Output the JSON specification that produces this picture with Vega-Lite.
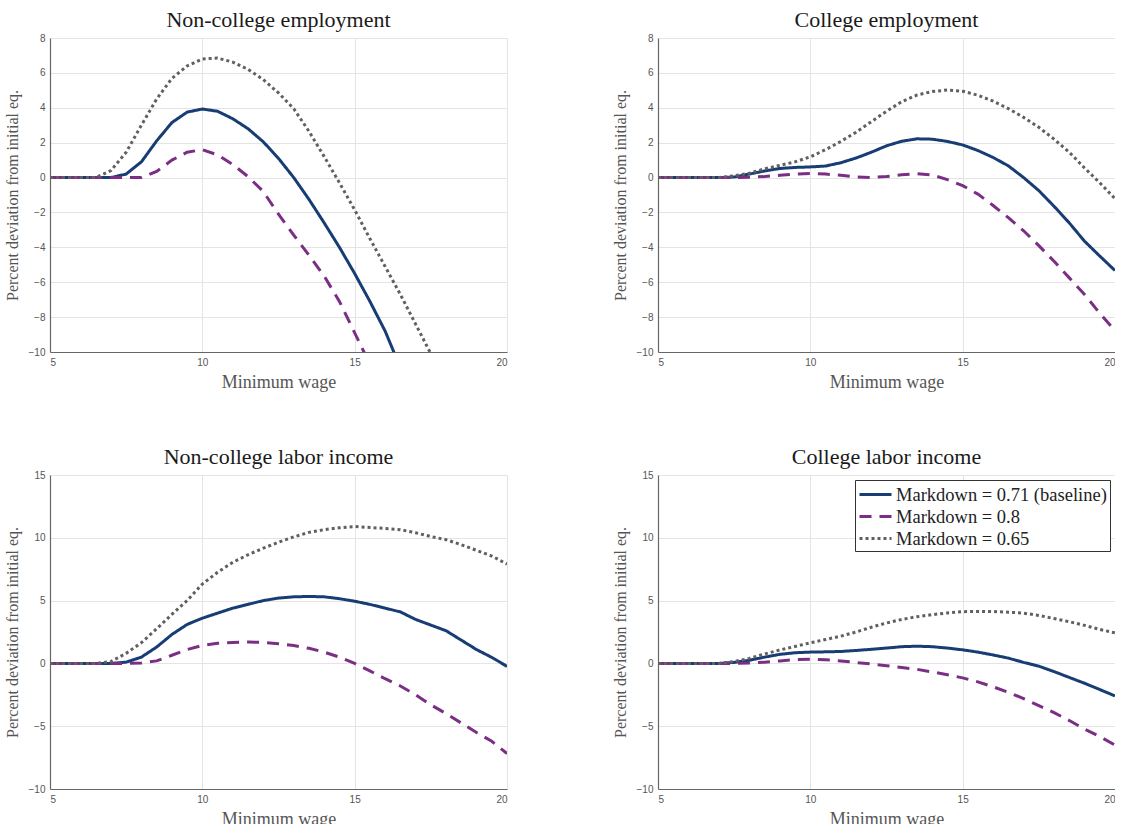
{
  "$schema": "https://vega.github.io/schema/vega-lite/v6.json",
  "background": "white",
  "padding": {"left": 4, "top": 9, "right": 0, "bottom": 0},
  "config": {
    "view": {"stroke": null},
    "font": "Liberation Serif",
    "title": {"font": "Liberation Serif", "fontSize": 22, "fontWeight": "normal", "color": "#1a1a1a", "offset": 1},
    "axis": {
      "labelFont": "Liberation Sans", "labelFontSize": 10, "labelColor": "#555555",
      "titleFont": "Liberation Serif", "titleFontSize": 18, "titleFontWeight": "normal", "titleColor": "#555555",
      "domainColor": "#666666", "domainWidth": 1.2, "gridColor": "#e4e4e4", "gridWidth": 1,
      "ticks": false, "labelPadding": 5, "titlePadding": 6
    },
    "axisY": {"titlePadding": 8, "titleFontSize": 16}
  },
  "data": {"values": [
    {"p":"ne","x":5,"b":0,"h":0,"l":0},{"p":"ne","x":5.5,"b":0,"h":0,"l":0},{"p":"ne","x":6,"b":0,"h":0,"l":0},{"p":"ne","x":6.5,"b":0,"h":0,"l":0},
    {"p":"ne","x":7,"b":0,"h":0,"l":0.4},{"p":"ne","x":7.5,"b":0.2,"h":0,"l":1.45},{"p":"ne","x":8,"b":0.9,"h":0,"l":3.0},{"p":"ne","x":8.5,"b":2.1,"h":0.35,"l":4.5},
    {"p":"ne","x":9,"b":3.15,"h":1.0,"l":5.68},{"p":"ne","x":9.5,"b":3.75,"h":1.45,"l":6.4},{"p":"ne","x":10,"b":3.93,"h":1.6,"l":6.8},{"p":"ne","x":10.5,"b":3.8,"h":1.3,"l":6.85},
    {"p":"ne","x":11,"b":3.37,"h":0.75,"l":6.62},{"p":"ne","x":11.5,"b":2.8,"h":0.05,"l":6.2},{"p":"ne","x":12,"b":2.05,"h":-0.8,"l":5.62},{"p":"ne","x":12.5,"b":1.1,"h":-2.1,"l":4.85},
    {"p":"ne","x":13,"b":0.0,"h":-3.3,"l":3.95},{"p":"ne","x":13.5,"b":-1.25,"h":-4.45,"l":2.65},{"p":"ne","x":14,"b":-2.6,"h":-5.65,"l":1.2},{"p":"ne","x":14.5,"b":-4.0,"h":-7.1,"l":-0.3},
    {"p":"ne","x":15,"b":-5.5,"h":-8.9,"l":-1.85},{"p":"ne","x":15.5,"b":-7.1,"h":-10.7,"l":-3.5},{"p":"ne","x":16,"b":-8.8,"h":null,"l":-5.1},{"p":"ne","x":16.5,"b":-10.9,"h":null,"l":-6.7},
    {"p":"ne","x":17,"b":null,"h":null,"l":-8.4},{"p":"ne","x":17.5,"b":null,"h":null,"l":-10.1},

    {"p":"ce","x":5,"b":0,"h":0,"l":0},{"p":"ce","x":5.5,"b":0,"h":0,"l":0},{"p":"ce","x":6,"b":0,"h":0,"l":0},{"p":"ce","x":6.5,"b":0,"h":0,"l":0},
    {"p":"ce","x":7,"b":0,"h":0,"l":0},{"p":"ce","x":7.5,"b":0.03,"h":0,"l":0.1},{"p":"ce","x":8,"b":0.2,"h":0.02,"l":0.25},{"p":"ce","x":8.5,"b":0.38,"h":0.06,"l":0.5},
    {"p":"ce","x":9,"b":0.52,"h":0.13,"l":0.7},{"p":"ce","x":9.5,"b":0.58,"h":0.2,"l":0.9},{"p":"ce","x":10,"b":0.61,"h":0.23,"l":1.19},{"p":"ce","x":10.5,"b":0.66,"h":0.2,"l":1.6},
    {"p":"ce","x":11,"b":0.85,"h":0.13,"l":2.07},{"p":"ce","x":11.5,"b":1.12,"h":0.04,"l":2.6},{"p":"ce","x":12,"b":1.45,"h":0.0,"l":3.2},{"p":"ce","x":12.5,"b":1.82,"h":0.06,"l":3.8},
    {"p":"ce","x":13,"b":2.08,"h":0.16,"l":4.35},{"p":"ce","x":13.5,"b":2.22,"h":0.22,"l":4.73},{"p":"ce","x":14,"b":2.2,"h":0.15,"l":4.93},{"p":"ce","x":14.5,"b":2.07,"h":-0.12,"l":5.02},
    {"p":"ce","x":15,"b":1.87,"h":-0.46,"l":4.95},{"p":"ce","x":15.5,"b":1.55,"h":-0.95,"l":4.72},{"p":"ce","x":16,"b":1.15,"h":-1.6,"l":4.38},{"p":"ce","x":16.5,"b":0.67,"h":-2.3,"l":3.95},
    {"p":"ce","x":17,"b":0.0,"h":-3.05,"l":3.45},{"p":"ce","x":17.5,"b":-0.75,"h":-3.9,"l":2.88},{"p":"ce","x":18,"b":-1.65,"h":-4.8,"l":2.2},{"p":"ce","x":18.5,"b":-2.6,"h":-5.75,"l":1.45},
    {"p":"ce","x":19,"b":-3.65,"h":-6.7,"l":0.55},{"p":"ce","x":19.5,"b":-4.5,"h":-7.78,"l":-0.3},{"p":"ce","x":20,"b":-5.33,"h":-8.77,"l":-1.21},

    {"p":"ni","x":5,"b":0,"h":0,"l":0},{"p":"ni","x":5.5,"b":0,"h":0,"l":0},{"p":"ni","x":6,"b":0,"h":0,"l":0},{"p":"ni","x":6.5,"b":0,"h":0,"l":0},
    {"p":"ni","x":7,"b":0,"h":0,"l":0.15},{"p":"ni","x":7.5,"b":0.1,"h":0,"l":0.8},{"p":"ni","x":8,"b":0.5,"h":0.03,"l":1.65},{"p":"ni","x":8.5,"b":1.3,"h":0.2,"l":2.75},
    {"p":"ni","x":9,"b":2.3,"h":0.65,"l":3.9},{"p":"ni","x":9.5,"b":3.1,"h":1.1,"l":5.0},{"p":"ni","x":10,"b":3.6,"h":1.43,"l":6.32},{"p":"ni","x":10.5,"b":4.0,"h":1.6,"l":7.25},
    {"p":"ni","x":11,"b":4.4,"h":1.67,"l":8.05},{"p":"ni","x":11.5,"b":4.7,"h":1.7,"l":8.65},{"p":"ni","x":12,"b":5.0,"h":1.68,"l":9.17},{"p":"ni","x":12.5,"b":5.2,"h":1.57,"l":9.65},
    {"p":"ni","x":13,"b":5.3,"h":1.42,"l":10.07},{"p":"ni","x":13.5,"b":5.33,"h":1.2,"l":10.43},{"p":"ni","x":14,"b":5.3,"h":0.9,"l":10.65},{"p":"ni","x":14.5,"b":5.15,"h":0.5,"l":10.8},
    {"p":"ni","x":15,"b":4.95,"h":0.0,"l":10.9},{"p":"ni","x":15.5,"b":4.7,"h":-0.6,"l":10.82},{"p":"ni","x":16,"b":4.4,"h":-1.22,"l":10.75},{"p":"ni","x":16.5,"b":4.1,"h":-1.8,"l":10.65},
    {"p":"ni","x":17,"b":3.5,"h":-2.5,"l":10.4},{"p":"ni","x":17.5,"b":3.05,"h":-3.3,"l":10.1},{"p":"ni","x":18,"b":2.6,"h":-4.0,"l":9.85},{"p":"ni","x":18.5,"b":1.85,"h":-4.75,"l":9.45},
    {"p":"ni","x":19,"b":1.1,"h":-5.5,"l":9.0},{"p":"ni","x":19.5,"b":0.48,"h":-6.2,"l":8.55},{"p":"ni","x":20,"b":-0.24,"h":-7.17,"l":7.91},

    {"p":"ci","x":5,"b":0,"h":0,"l":0},{"p":"ci","x":5.5,"b":0,"h":0,"l":0},{"p":"ci","x":6,"b":0,"h":0,"l":0},{"p":"ci","x":6.5,"b":0,"h":0,"l":0},
    {"p":"ci","x":7,"b":0,"h":0,"l":0},{"p":"ci","x":7.5,"b":0.08,"h":0,"l":0.15},{"p":"ci","x":8,"b":0.25,"h":0.03,"l":0.4},{"p":"ci","x":8.5,"b":0.5,"h":0.1,"l":0.75},
    {"p":"ci","x":9,"b":0.72,"h":0.2,"l":1.07},{"p":"ci","x":9.5,"b":0.85,"h":0.3,"l":1.35},{"p":"ci","x":10,"b":0.9,"h":0.34,"l":1.64},{"p":"ci","x":10.5,"b":0.92,"h":0.3,"l":1.9},
    {"p":"ci","x":11,"b":0.95,"h":0.2,"l":2.17},{"p":"ci","x":11.5,"b":1.03,"h":0.07,"l":2.5},{"p":"ci","x":12,"b":1.12,"h":-0.05,"l":2.88},{"p":"ci","x":12.5,"b":1.22,"h":-0.18,"l":3.22},
    {"p":"ci","x":13,"b":1.33,"h":-0.33,"l":3.5},{"p":"ci","x":13.5,"b":1.37,"h":-0.47,"l":3.72},{"p":"ci","x":14,"b":1.33,"h":-0.68,"l":3.88},{"p":"ci","x":14.5,"b":1.22,"h":-0.9,"l":4.02},
    {"p":"ci","x":15,"b":1.08,"h":-1.15,"l":4.12},{"p":"ci","x":15.5,"b":0.9,"h":-1.47,"l":4.14},{"p":"ci","x":16,"b":0.67,"h":-1.86,"l":4.13},{"p":"ci","x":16.5,"b":0.42,"h":-2.3,"l":4.08},
    {"p":"ci","x":17,"b":0.08,"h":-2.8,"l":4.0},{"p":"ci","x":17.5,"b":-0.22,"h":-3.36,"l":3.82},{"p":"ci","x":18,"b":-0.65,"h":-3.92,"l":3.57},{"p":"ci","x":18.5,"b":-1.12,"h":-4.55,"l":3.32},
    {"p":"ci","x":19,"b":-1.58,"h":-5.23,"l":3.03},{"p":"ci","x":19.5,"b":-2.08,"h":-5.83,"l":2.7},{"p":"ci","x":20,"b":-2.59,"h":-6.5,"l":2.43}
  ]},
  "transform": [{"fold": ["b", "h", "l"], "as": ["s", "y"]}],
  "columns": 2,
  "spacing": {"column": 105, "row": 55},
  "resolve": {
    "scale": {"color": "independent", "strokeDash": "independent", "x": "independent", "y": "independent"},
    "legend": {"color": "independent", "strokeDash": "independent"}
  },
  "concat": [
    {
      "title": "Non-college employment",
      "width": 457, "height": 314,
      "transform": [{"filter": "datum.p == 'ne'"}],
      "mark": {"type": "line", "strokeWidth": 3, "clip": true},
      "encoding": {
        "x": {"field": "x", "type": "quantitative", "scale": {"domain": [5, 20], "nice": false}, "axis": {"values": [5, 10, 15, 20], "title": "Minimum wage"}},
        "y": {"field": "y", "type": "quantitative", "scale": {"domain": [-10, 8], "nice": false}, "axis": {"values": [-10, -8, -6, -4, -2, 0, 2, 4, 6, 8], "title": "Percent deviation from initial eq."}},
        "color": {"field": "s", "type": "nominal", "scale": {"domain": ["b", "h", "l"], "range": ["#173d74", "#7a2f84", "#606060"]}, "legend": null},
        "strokeDash": {"field": "s", "type": "nominal", "scale": {"domain": ["b", "h", "l"], "range": [[1, 0], [12, 8], [3, 3]]}, "legend": null}
      }
    },
    {
      "title": "College employment",
      "width": 457, "height": 314,
      "transform": [{"filter": "datum.p == 'ce'"}],
      "mark": {"type": "line", "strokeWidth": 3, "clip": true},
      "encoding": {
        "x": {"field": "x", "type": "quantitative", "scale": {"domain": [5, 20], "nice": false}, "axis": {"values": [5, 10, 15, 20], "title": "Minimum wage"}},
        "y": {"field": "y", "type": "quantitative", "scale": {"domain": [-10, 8], "nice": false}, "axis": {"values": [-10, -8, -6, -4, -2, 0, 2, 4, 6, 8], "title": "Percent deviation from initial eq."}},
        "color": {"field": "s", "type": "nominal", "scale": {"domain": ["b", "h", "l"], "range": ["#173d74", "#7a2f84", "#606060"]}, "legend": null},
        "strokeDash": {"field": "s", "type": "nominal", "scale": {"domain": ["b", "h", "l"], "range": [[1, 0], [12, 8], [3, 3]]}, "legend": null}
      }
    },
    {
      "title": "Non-college labor income",
      "width": 457, "height": 314,
      "transform": [{"filter": "datum.p == 'ni'"}],
      "mark": {"type": "line", "strokeWidth": 3, "clip": true},
      "encoding": {
        "x": {"field": "x", "type": "quantitative", "scale": {"domain": [5, 20], "nice": false}, "axis": {"values": [5, 10, 15, 20], "title": "Minimum wage"}},
        "y": {"field": "y", "type": "quantitative", "scale": {"domain": [-10, 15], "nice": false}, "axis": {"values": [-10, -5, 0, 5, 10, 15], "title": "Percent deviation from initial eq."}},
        "color": {"field": "s", "type": "nominal", "scale": {"domain": ["b", "h", "l"], "range": ["#173d74", "#7a2f84", "#606060"]}, "legend": null},
        "strokeDash": {"field": "s", "type": "nominal", "scale": {"domain": ["b", "h", "l"], "range": [[1, 0], [12, 8], [3, 3]]}, "legend": null}
      }
    },
    {
      "title": "College labor income",
      "width": 457, "height": 314,
      "transform": [{"filter": "datum.p == 'ci'"}],
      "mark": {"type": "line", "strokeWidth": 3, "clip": true},
      "encoding": {
        "x": {"field": "x", "type": "quantitative", "scale": {"domain": [5, 20], "nice": false}, "axis": {"values": [5, 10, 15, 20], "title": "Minimum wage"}},
        "y": {"field": "y", "type": "quantitative", "scale": {"domain": [-10, 15], "nice": false}, "axis": {"values": [-10, -5, 0, 5, 10, 15], "title": "Percent deviation from initial eq."}},
        "color": {"field": "s", "type": "nominal", "scale": {"domain": ["b", "h", "l"], "range": ["#173d74", "#7a2f84", "#606060"]},
          "legend": {"orient": "top-right", "title": null, "offset": 5, "padding": 3, "strokeColor": "#333333", "fillColor": "white",
            "labelExpr": "datum.label == 'b' ? 'Markdown = 0.71 (baseline)' : (datum.label == 'h' ? 'Markdown = 0.8' : 'Markdown = 0.65')",
            "labelFont": "Liberation Serif", "labelFontSize": 18.5, "labelColor": "#222222", "labelOffset": 9, "labelLimit": 400,
            "symbolType": "M-1.6,0H1.6", "symbolStrokeWidth": 3, "symbolSize": 400, "symbolOffset": 6, "rowPadding": 1}},
        "strokeDash": {"field": "s", "type": "nominal", "scale": {"domain": ["b", "h", "l"], "range": [[1, 0], [12, 8], [3, 3]]},
          "legend": {"orient": "top-right", "title": null, "offset": 5, "padding": 3, "strokeColor": "#333333", "fillColor": "white",
            "labelExpr": "datum.label == 'b' ? 'Markdown = 0.71 (baseline)' : (datum.label == 'h' ? 'Markdown = 0.8' : 'Markdown = 0.65')",
            "labelFont": "Liberation Serif", "labelFontSize": 18.5, "labelColor": "#222222", "labelOffset": 9, "labelLimit": 400,
            "symbolType": "M-1.6,0H1.6", "symbolStrokeWidth": 3, "symbolSize": 400, "symbolOffset": 6, "rowPadding": 1}}
      }
    }
  ]
}
